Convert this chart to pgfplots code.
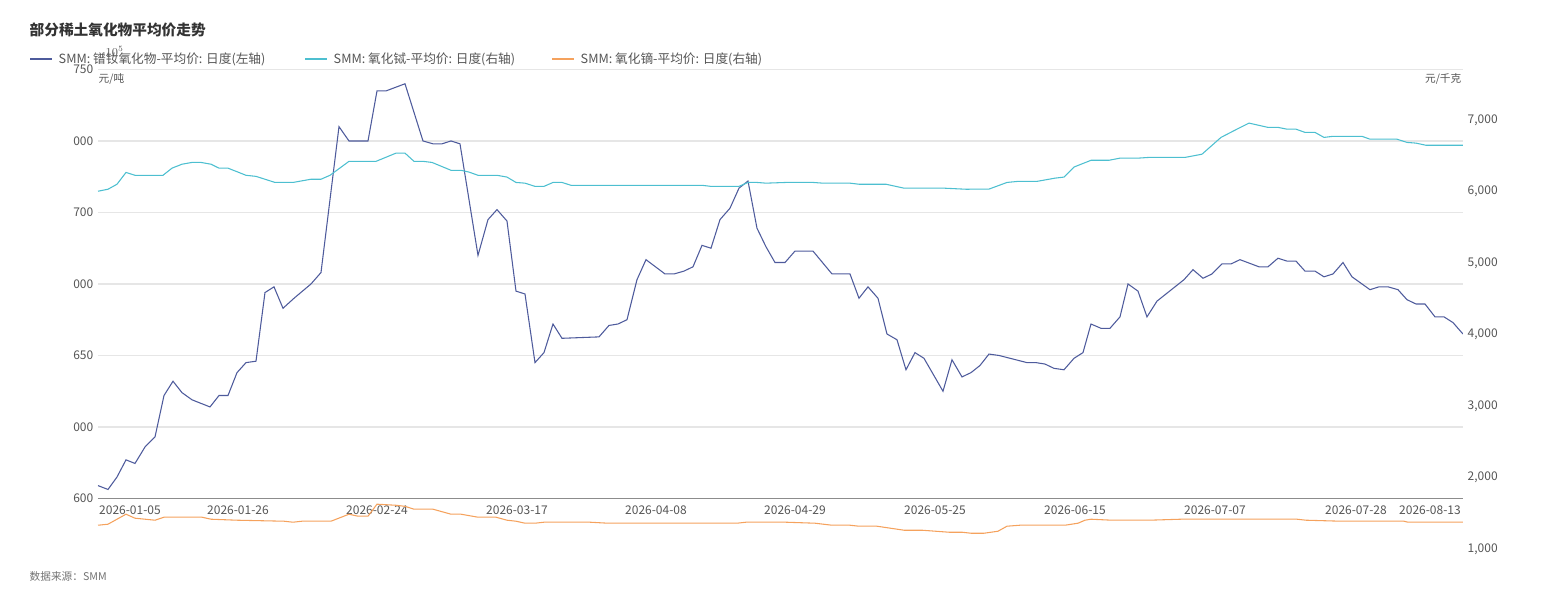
\documentclass[border=0pt]{standalone}
\usepackage{pgfplots}
\pgfplotsset{compat=1.18}
\usepackage{fontspec}
\setmainfont{Noto Sans CJK SC}
\definecolor{cnavy}{HTML}{4E5B9C}
\definecolor{ccyan}{HTML}{4DBFD0}
\definecolor{corange}{HTML}{F5A25D}
\definecolor{cgrid}{HTML}{E6E6E6}
\definecolor{ctxt}{HTML}{555555}
\begin{document}
\begin{tikzpicture}[x=0.75pt,y=0.75pt]
\path (0,0) rectangle (1541,600);
\node[anchor=west,font=\fontsize{11}{12}\selectfont\bfseries,text=black!80] at (25,570) {部分稀土氧化物平均价走势};
\draw[cnavy,line width=1pt] (30,541)--(52,541);
\node[anchor=west,font=\fontsize{9.5}{10}\selectfont,text=ctxt] at (54,541) {SMM: 镨钕氧化物-平均价: 日度(左轴)};
\draw[ccyan,line width=1pt] (305,541)--(327,541);
\node[anchor=west,font=\fontsize{9.5}{10}\selectfont,text=ctxt] at (329,541) {SMM: 氧化铽-平均价: 日度(右轴)};
\draw[corange,line width=1pt] (552,541)--(574,541);
\node[anchor=west,font=\fontsize{9.5}{10}\selectfont,text=ctxt] at (576,541) {SMM: 氧化镝-平均价: 日度(右轴)};
\node[anchor=west,font=\fontsize{8}{9}\selectfont,text=ctxt] at (94,521) {元/吨};
\node[anchor=east,font=\fontsize{8}{9}\selectfont,text=ctxt] at (1466,521) {元/千克};
\node[anchor=west,font=\fontsize{8}{9}\selectfont\itshape,text=black!55] at (25,24) {数据来源：SMM};
\pgfplotsset{every axis/.append style={scale only axis,width=1023.75pt,height=321.75pt,xmin=98,xmax=1463,
  tick label style={font=\fontsize{9}{10}\selectfont,text=ctxt},
  major tick length=0pt, axis line style={draw=none}}}
\begin{axis}[at={(98,71)},anchor=south west,
  ymin=600000,ymax=900000,ytick={600000,650000,700000,750000,800000,850000,900000},
  yticklabels={600,000,650,000,700,000,750,000,800,000,850,000,900,000},
  ymajorgrids, grid style={cgrid,line width=0.8pt},
  xtick={130,238,377,517,656,795,935,1075,1215,1356,1430},
  xticklabels={2026-01-05,2026-01-26,2026-02-24,2026-03-17,2026-04-08,2026-04-29,2026-05-25,2026-06-15,2026-07-07,2026-07-28,2026-08-13},
  x tick label style={yshift=-2pt}]
\addplot[cnavy,line width=0.8pt] coordinates {
(98,609000)(108,606300)(117,615000)(126,627000)(135,624500)(145,636000)(155,643000)(164,672000)(173,682000)(182,674000)(192,669000)(210,664000)(219,672000)(228,672000)(237,688000)(246,695000)(256,696000)(265,744000)(274,748000)(283,733000)(294,740000)(311,750000)(321,758000)(339,860000)(349,850000)(368,850000)(377,885000)(386,885000)(405,890000)(423,850000)(433,848000)(442,848000)(451,850000)(460,848000)(478,770000)(488,795000)(497,802000)(507,794000)(516,745000)(525,743000)(535,695000)(544,702000)(553,722000)(562,712000)(599,713000)(609,721000)(618,722000)(627,725000)(637,753000)(646,767000)(665,757000)(674,757000)(684,759000)(693,762000)(702,777000)(711,775000)(720,795000)(730,803000)(739,817000)(748,822000)(757,789000)(766,776000)(775,765000)(785,765000)(795,773000)(813,773000)(832,757000)(850,757000)(859,740000)(868,748000)(878,740000)(887,715000)(897,711000)(906,690000)(915,702000)(924,698000)(943,675000)(952,697000)(962,685000)(971,688000)(980,693000)(989,701000)(999,700000)(1027,695000)(1036,695000)(1045,694000)(1054,691000)(1064,690000)(1074,698000)(1083,702000)(1091,722000)(1101,719000)(1110,719000)(1120,727000)(1128,750000)(1138,745000)(1147,727000)(1157,738000)(1184,753000)(1193,760000)(1203,754000)(1212,757000)(1222,764000)(1231,764000)(1240,767000)(1259,762000)(1268,762000)(1278,768000)(1287,766000)(1296,766000)(1305,759000)(1315,759000)(1324,755000)(1333,757000)(1343,765000)(1352,755000)(1370,746000)(1379,748000)(1388,748000)(1398,746000)(1407,739000)(1416,736000)(1425,736000)(1435,727000)(1444,727000)(1453,723000)(1463,715000)};
\draw[black!45,line width=0.8pt] (axis cs:98,600000)--(axis cs:1463,600000);
\end{axis}
\begin{axis}[at={(98,71)},anchor=south west,
  ymin=1000,ymax=7000,ytick={1000,2000,3000,4000,5000,6000,7000},
  yticklabels={{1,000},{2,000},{3,000},{4,000},{5,000},{6,000},{7,000}},
  axis y line*=right, xtick=\empty]
\addplot[ccyan,line width=0.8pt] coordinates {
(98,6007)(108,6035)(117,6105)(126,6270)(135,6230)(163,6230)(172,6330)(182,6385)(192,6410)(201,6410)(211,6385)(219,6330)(228,6330)(246,6230)(256,6215)(275,6130)(293,6130)(311,6175)(321,6175)(330,6230)(349,6425)(376,6425)(396,6540)(405,6540)(414,6425)(423,6425)(432,6410)(451,6300)(461,6300)(469,6275)(478,6230)(497,6230)(507,6205)(516,6130)(525,6120)(535,6075)(544,6075)(553,6130)(562,6130)(571,6090)(702,6090)(711,6075)(739,6075)(748,6130)(757,6130)(766,6120)(786,6130)(813,6130)(823,6120)(850,6120)(859,6105)(886,6105)(904,6050)(944,6050)(966,6035)(989,6037)(1007,6130)(1018,6145)(1037,6145)(1055,6190)(1064,6205)(1074,6345)(1091,6440)(1109,6440)(1120,6470)(1138,6470)(1149,6480)(1185,6480)(1202,6525)(1221,6760)(1239,6890)(1249,6960)(1268,6900)(1278,6900)(1287,6875)(1296,6875)(1305,6830)(1315,6830)(1324,6760)(1333,6775)(1362,6775)(1370,6735)(1397,6735)(1407,6690)(1416,6680)(1426,6650)(1463,6650)};
\addplot[corange,line width=0.8pt] coordinates {
(98,1336)(108,1350)(126,1490)(135,1434)(145,1420)(155,1406)(164,1448)(202,1448)(211,1420)(237,1406)(284,1392)(293,1378)(302,1392)(331,1392)(349,1490)(358,1462)(368,1462)(377,1630)(396,1615)(405,1600)(414,1560)(433,1560)(451,1490)(461,1490)(478,1448)(496,1448)(507,1406)(516,1392)(525,1364)(535,1364)(544,1378)(590,1378)(608,1364)(737,1364)(746,1378)(786,1378)(815,1364)(832,1336)(850,1336)(859,1322)(877,1322)(904,1266)(922,1266)(949,1238)(962,1238)(971,1224)(984,1224)(998,1252)(1007,1322)(1020,1336)(1065,1336)(1078,1364)(1085,1406)(1091,1420)(1112,1406)(1149,1406)(1181,1420)(1297,1420)(1306,1406)(1341,1392)(1404,1392)(1408,1378)(1463,1378)};
\end{axis}
\end{tikzpicture}
\end{document}
